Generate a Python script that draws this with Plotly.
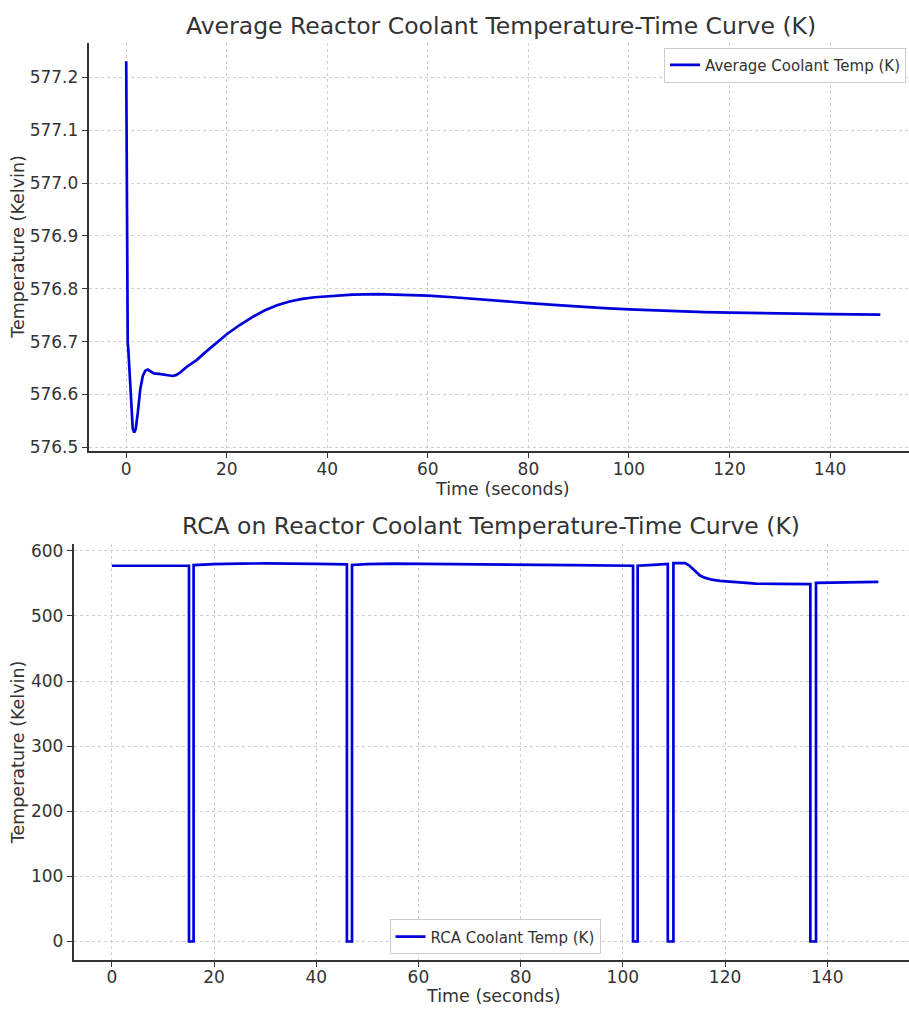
import plotly.graph_objects as go

# ---- Data: Average reactor coolant temperature ----
avg_time = [0, 0.1, 0.2, 0.3, 0.45, 0.7, 1.0, 1.3, 1.6, 1.9, 2.3, 2.8, 3.3, 3.8, 4.3,
            4.8, 5.5, 6.5, 7.5, 8.5, 9.3, 10.0, 10.8, 12, 14, 16, 18, 20, 22.5, 25,
            27.5, 30, 32.5, 35, 37.5, 40, 45, 50, 55, 60, 65, 70, 75, 80, 85, 90, 95,
            100, 105, 110, 115, 120, 130, 140, 150]
avg_temp = [577.231, 577.05, 576.82, 576.70, 576.68, 576.63, 576.57, 576.535, 576.528,
            576.535, 576.565, 576.61, 576.635, 576.645, 576.647, 576.644, 576.640,
            576.639, 576.638, 576.636, 576.635, 576.637, 576.642, 576.652, 576.665,
            576.682, 576.698, 576.714, 576.731, 576.746, 576.759, 576.769, 576.776,
            576.781, 576.784, 576.786, 576.789, 576.790, 576.789, 576.787, 576.784,
            576.780, 576.777, 576.773, 576.7695, 576.766, 576.7635, 576.761, 576.759,
            576.7575, 576.756, 576.755, 576.753, 576.752, 576.751]

# ---- Data: RCA reactor coolant temperature ----
rca_time = [0, 15.1, 15.1, 16.0, 16.0, 20, 25, 30, 40, 46.0, 46.0, 47.0, 47.0, 50, 55,
            60, 72, 80, 90, 102.0, 102.0, 102.9, 102.9, 106, 108.8, 108.8, 109.9, 109.9,
            112.2, 113.0, 113.8, 114.5, 115.1, 116.0, 117.4, 119, 120, 123, 126, 130,
            136.7, 136.7, 137.8, 137.8, 142, 150]
rca_temp = [577.1, 577.1, 0, 0, 578.2, 579.7, 580.4, 580.7, 579.9, 579.2, 0, 0, 578.4,
            579.6, 580.4, 580.2, 579.2, 578.7, 578.0, 577.1, 0, 0, 577.2, 578.5, 579.8,
            0, 0, 581.2, 581.2, 577.5, 571.5, 566.0, 562.0, 558.8, 555.7, 554.0, 553.3,
            551.0, 549.6, 549.2, 549.0, 0, 0, 550.7, 551.2, 552.2]

x_ticks = [0, 20, 40, 60, 80, 100, 120, 140]
avg_ticks = [576.5, 576.6, 576.7, 576.8, 576.9, 577.0, 577.1, 577.2]
rca_ticks = [0, 100, 200, 300, 400, 500, 600]

W, H = 909, 1011
FONT = "DejaVu Sans, sans-serif"
TXT = "#333333"
LINE = "#0000dd"

def px(x):
    return x / W

def py(y):
    return 1 - y / H

fig = go.Figure()
fig.add_trace(go.Scatter(x=avg_time, y=avg_temp, mode="lines",
                         line=dict(color=LINE, width=2.7),
                         name="Average Coolant Temp (K)", xaxis="x", yaxis="y",
                         legend="legend"))
fig.add_trace(go.Scatter(x=rca_time, y=rca_temp, mode="lines",
                         line=dict(color=LINE, width=2.7),
                         name="RCA Coolant Temp (K)", xaxis="x2", yaxis="y2",
                         legend="legend2"))

axis_common = dict(showline=True, linecolor="#333333", linewidth=1.5, mirror=False,
                   ticks="outside", ticklen=5, tickwidth=1.2, tickcolor="#333333",
                   showgrid=True, gridcolor="#cfcfcf", griddash="3px,3px", gridwidth=1,
                   zeroline=False, tickfont=dict(family=FONT, size=17, color=TXT))

fig.update_layout(
    width=W, height=H,
    margin=dict(l=0, r=0, t=0, b=0),
    paper_bgcolor="white", plot_bgcolor="white",
    font=dict(family=FONT, color=TXT),
    xaxis=dict(domain=[px(88.5), 1], range=[-7.5, 155.7], tickvals=x_ticks,
               anchor="y", ticklabelstandoff=-3, **axis_common),
    yaxis=dict(domain=[py(452), py(40)], range=[576.493, 577.266], tickvals=avg_ticks,
               tickformat=".1f", anchor="x", **axis_common),
    xaxis2=dict(domain=[px(73.5), 1], range=[-7.5, 156.0], tickvals=x_ticks,
                anchor="y2", ticklabelstandoff=-5, **axis_common),
    yaxis2=dict(domain=[py(966), py(546)], range=[-29, 610.3], tickvals=rca_ticks,
                anchor="x2", **axis_common),
    legend=dict(x=px(906), y=py(45), xanchor="right", yanchor="top",
                bgcolor="white", bordercolor="#cccccc", borderwidth=1,
                font=dict(family=FONT, size=15, color=TXT)),
    legend2=dict(x=px(495), y=py(960), xanchor="center", yanchor="bottom",
                 bgcolor="white", bordercolor="#cccccc", borderwidth=1,
                 font=dict(family=FONT, size=15, color=TXT)),
    showlegend=True,
)

annos = [
    dict(text="Average Reactor Coolant Temperature-Time Curve (K)", x=px(501), y=py(23),
         font=dict(size=23.5)),
    dict(text="RCA on Reactor Coolant Temperature-Time Curve (K)", x=px(491), y=py(528),
         font=dict(size=23.5)),
    dict(text="Time (seconds)", x=px(502), y=py(490), font=dict(size=17.5)),
    dict(text="Time (seconds)", x=px(494), y=py(1002), font=dict(size=17.5)),
    dict(text="Temperature (Kelvin)", x=px(18), y=py(246), textangle=-90,
         font=dict(size=17.5)),
    dict(text="Temperature (Kelvin)", x=px(18), y=py(756), textangle=-90,
         font=dict(size=17.5)),
]
for a in annos:
    f = dict(family=FONT, color=TXT)
    f.update(a.pop("font"))
    fig.add_annotation(xref="paper", yref="paper", xanchor="center", yanchor="middle",
                       showarrow=False, font=f, **a)

fig.write_html(
    "out.html",
    config={"displayModeBar": False},
    post_script="document.body.style.margin='0';document.body.style.overflow='hidden';",
)
